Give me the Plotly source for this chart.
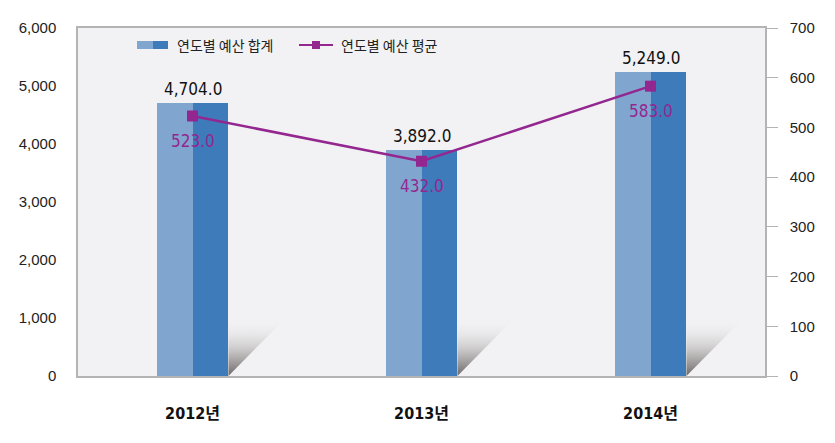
import plotly.graph_objects as go

years = ["2012년", "2013년", "2014년"]
budget_total = [4704.0, 3892.0, 5249.0]
budget_avg = [523.0, 432.0, 583.0]

LIGHT = "#80a6cf"
DARK = "#3e7bba"
PURPLE = "#93278f"
BG = "#f2f2f4"
AXIS = "#b4b4b4"
NUM_FONT = "DejaVu Sans Condensed, Liberation Sans Narrow, Noto Sans CJK KR"
KR_FONT = "Noto Sans CJK KR, Noto Sans"

# the page body adds an 8px margin, so work in window pixels and shift back
OFF = 8
W, H = 835 - OFF, 443 - OFF
L, R, T, B = 78 - OFF, 765 - OFF, 28 - OFF, 376 - OFF


def px(x):
    return (x - OFF - L) / (R - L)


def py(y):
    return (B - (y - OFF)) / (B - T)


xs = list(range(len(years)))
half = 0.157

fig = go.Figure()

# shadow wedges to the right of each bar
for i in xs:
    xr = i + half
    fig.add_trace(go.Scatter(
        x=[xr, xr + 0.25, xr, xr], y=[0, 1000, 1000, 0],
        mode="lines", line=dict(width=0), fill="toself",
        fillgradient=dict(type="vertical",
                          colorscale=[[0, "rgba(110,104,104,1)"], [0.5, "rgba(200,198,198,0.8)"], [1, "rgba(242,242,244,0)"]]),
        hoverinfo="skip", showlegend=False,
    ))

fig.add_trace(go.Bar(x=xs, y=budget_total, width=half, offset=-half,
                     marker=dict(color=LIGHT, line=dict(width=0)), showlegend=False))
fig.add_trace(go.Bar(x=xs, y=budget_total, width=half, offset=0,
                     marker=dict(color=DARK, line=dict(width=0)), showlegend=False))

fig.add_trace(go.Scatter(
    x=xs, y=budget_avg, yaxis="y2", mode="lines+markers",
    line=dict(color=PURPLE, width=2.5),
    marker=dict(symbol="square", size=11, color=PURPLE),
    showlegend=False,
))

# value labels
annotations = []
for x, v in zip(xs, budget_total):
    annotations.append(dict(x=x, y=v, xref="x", yref="y", text=f"{v:,.1f}", showarrow=False,
                            yanchor="middle", yshift=14,
                            font=dict(size=17, color="#111", family=NUM_FONT)))
for x, v in zip(xs, budget_avg):
    annotations.append(dict(x=x, y=v, xref="x", yref="y2", text=f"{v:.1f}", showarrow=False,
                            yanchor="middle", yshift=-25,
                            font=dict(size=17, color=PURPLE, family=NUM_FONT)))

# legend drawn by hand: two-tone swatch and line with marker
shapes = [
    dict(type="rect", xref="paper", yref="paper", x0=px(137), x1=px(153), y0=py(49), y1=py(41),
         fillcolor=LIGHT, line=dict(width=0)),
    dict(type="rect", xref="paper", yref="paper", x0=px(153), x1=px(168), y0=py(49), y1=py(41),
         fillcolor=DARK, line=dict(width=0)),
    dict(type="line", xref="paper", yref="paper", x0=px(299), x1=px(333), y0=py(45), y1=py(45),
         line=dict(color=PURPLE, width=2)),
    dict(type="rect", xref="paper", yref="paper", x0=px(312), x1=px(320), y0=py(49), y1=py(41),
         fillcolor=PURPLE, line=dict(width=0)),
]
annotations += [
    dict(xref="paper", yref="paper", x=px(175), y=py(45), xanchor="left", yanchor="middle",
         text="연도별 예산 합계", showarrow=False, font=dict(size=14, color="#222", family=KR_FONT)),
    dict(xref="paper", yref="paper", x=px(339), y=py(45), xanchor="left", yanchor="middle",
         text="연도별 예산 평균", showarrow=False, font=dict(size=14, color="#222", family=KR_FONT)),
]

fig.update_layout(
    width=W, height=H,
    margin=dict(l=L, r=W - R, t=T, b=H - B),
    paper_bgcolor="white", plot_bgcolor=BG,
    barmode="overlay", bargap=0,
    shapes=shapes, annotations=annotations,
    xaxis=dict(
        tickmode="array", tickvals=xs, ticktext=years, range=[-0.5, 2.5], automargin=False,
        showgrid=False, zeroline=False, showline=True, linecolor=AXIS, linewidth=1.5,
        mirror=True, ticks="", ticklabelstandoff=22,
        tickfont=dict(size=16, color="#111", family=NUM_FONT, weight="bold"),
    ),
    yaxis=dict(
        range=[0, 6000], dtick=1000, tickformat=",", showgrid=False, zeroline=False,
        automargin=False, showline=True, linecolor=AXIS, linewidth=1.5, ticks="",
        ticklabelstandoff=17,
        tickfont=dict(size=15, color="#222", family="Liberation Sans, Arial"),
    ),
    yaxis2=dict(
        overlaying="y", side="right", range=[0, 700], dtick=100, showgrid=False,
        automargin=False, zeroline=False, showline=True, linecolor=AXIS, linewidth=1.5,
        ticks="outside", ticklen=11, tickcolor=AXIS, ticklabelstandoff=9,
        tickfont=dict(size=15, color="#222", family="Liberation Sans, Arial"),
    ),
)

fig.write_html("out.html")
